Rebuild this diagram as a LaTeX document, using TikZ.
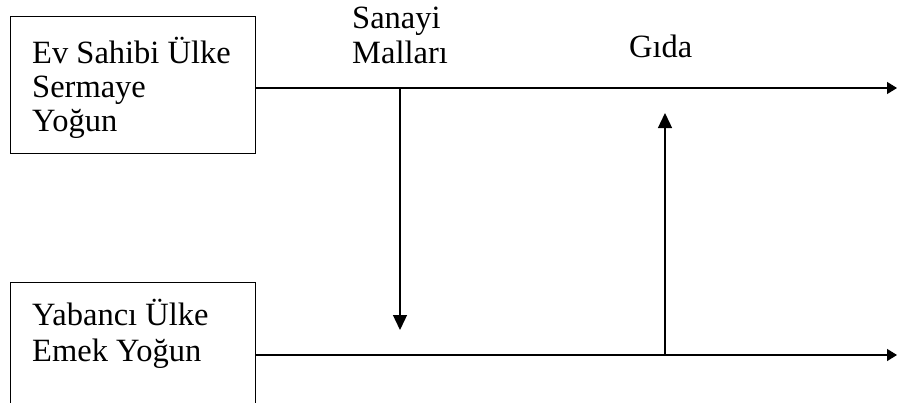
\documentclass[tikz,border=0pt]{standalone}
\usepackage{fontspec}
\setmainfont{Liberation Serif}
\usetikzlibrary{arrows.meta}
\tikzset{
  box/.style={draw, line width=1.2pt, inner sep=0pt, anchor=north west},
  label/.style={font=\fontsize{32.5}{35}\selectfont, inner sep=0pt, align=left, anchor=base west},
  flow/.style={line width=1.3pt, -{Triangle[length=15pt,width=14pt]}},
  flowend/.style={line width=1.3pt, -{Triangle[length=10pt,width=12pt]}}
}
\begin{document}
\begin{tikzpicture}[x=1pt,y=-1pt]
\useasboundingbox (0,0) rectangle (897,402);
\fill[white] (0,0) rectangle (897,402);
\clip (0,0) rectangle (897,402);
% boxes
\node[box, minimum width=245pt, minimum height=137pt] (home) at (10,16) {};
\node[box, minimum width=245pt, minimum height=150pt] (foreign) at (10,282) {};
% box texts
\node[label] (t1) at (32,63) {Ev Sahibi Ülke};
\node[label] (t2) at (32,97) {Sermaye};
\node[label] (t3) at (32,131) {Yoğun};
\node[label] (t4) at (32,325) {Yabancı Ülke};
\node[label] (t5) at (32,361) {Emek Yoğun};
% flow labels
\node[label] (s1) at (352,28) {Sanayi};
\node[label] (s2) at (352,63) {Malları};
\node[label] (g) at (629,57) {Gıda};
% coordinates
\coordinate (hs) at (255,88);
\coordinate (he) at (897,88);
\coordinate (fs) at (255,355);
\coordinate (fe) at (897,355);
\coordinate (d1) at (400,88);
\coordinate (d2) at (400,330);
\coordinate (u1) at (665,355);
\coordinate (u2) at (665,113);
% connectors
\draw[flowend] (hs) -- (he);
\draw[flowend] (fs) -- (fe);
\draw[flow] (d1) -- (d2);
\draw[flow] (u1) -- (u2);
\end{tikzpicture}
\end{document}
